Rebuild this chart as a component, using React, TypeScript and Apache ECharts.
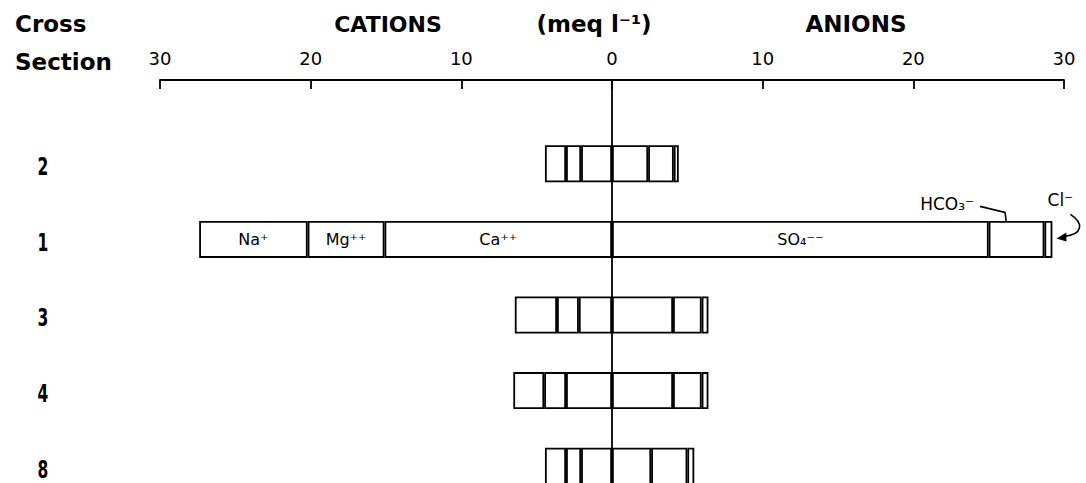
import React, { useEffect, useRef } from 'react';
import * as echarts from 'echarts';

// Cross sections (top to bottom)
const sections = ['2', '1', '3', '4', '8'];
// Cations (meq l-1), drawn to the left of zero
const caValues = [2.05, 15.1, 2.2, 3.05, 2.05];
const mgValues = [1.0, 5.1, 1.45, 1.45, 1.0];
const naValues = [1.4, 7.2, 2.8, 2.05, 1.4];
// Anions (meq l-1), drawn to the right of zero
const so4Values = [2.4, 25.0, 4.05, 4.05, 2.6];
const hco3Values = [1.7, 3.7, 1.9, 1.9, 2.4];
const clValues = [0.33, 0.53, 0.45, 0.45, 0.46];
// Axis range
const axisMin = -30;
const axisMax = 30;
const axisInterval = 10;
// Segment labels shown in section 1
const labelledSection = '1';
const ionLabels = { ca: 'Ca⁺⁺', mg: 'Mg⁺⁺', na: 'Na⁺', so4: 'SO₄⁻⁻' };

const thinFont = "'DejaVu Sans', 'Noto Sans', sans-serif";
const boldFont = "'DejaVu Sans', 'Liberation Sans', sans-serif";

function makeSeries(name: string, values: number[], sign: number, label?: string) {
  return {
    type: 'bar',
    name,
    stack: 'ions',
    xAxisIndex: 0,
    yAxisIndex: 0,
    barWidth: 37,
    itemStyle: { color: '#ffffff', borderColor: '#000000', borderWidth: 1.8 },
    emphasis: { disabled: true },
    data: values.map((v, i) => ({
      value: sign * v,
      label:
        label && sections[i] === labelledSection
          ? {
              show: true,
              position: 'inside',
              formatter: label,
              color: '#000',
              fontSize: 16,
              fontFamily: thinFont,
            }
          : { show: false },
    })),
  };
}

export default function App() {
  const ref = useRef<HTMLDivElement>(null);
  useEffect(() => {
    document.body.style.margin = '0';
    const chart = echarts.init(ref.current!, undefined, { renderer: 'svg' });
    const option: any = {
      animation: false,
      backgroundColor: '#ffffff',
      grid: [
        { left: 160, right: 22, top: 126, height: 378, outerBoundsMode: 'none', containLabel: false },
        { left: 160, right: 22, top: 80, height: 420, outerBoundsMode: 'none', containLabel: false },
      ],
      xAxis: [
        {
          gridIndex: 0,
          type: 'value',
          position: 'top',
          offset: 46,
          min: axisMin,
          max: axisMax,
          interval: axisInterval,
          axisLine: { show: true, lineStyle: { color: '#000', width: 1.8 } },
          axisTick: { show: true, inside: true, length: 9, lineStyle: { color: '#000', width: 1.8 } },
          axisLabel: {
            show: true,
            margin: 13,
            color: '#000',
            fontSize: 18,
            fontFamily: thinFont,
            formatter: (v: number) => String(Math.abs(v)),
          },
          splitLine: { show: false },
        },
        {
          gridIndex: 1,
          type: 'value',
          min: axisMin,
          max: axisMax,
          show: false,
        },
      ],
      yAxis: [
        {
          gridIndex: 0,
          type: 'category',
          data: sections,
          inverse: true,
          axisLine: { show: false },
          axisTick: { show: false },
          splitLine: { show: false },
          axisLabel: { show: false },
        },
        {
          gridIndex: 1,
          type: 'category',
          data: ['zero'],
          axisLine: { show: true, onZero: true, lineStyle: { color: '#000', width: 1.8 } },
          axisTick: { show: false },
          axisLabel: { show: false },
          splitLine: { show: false },
        },
      ],
      series: [
        makeSeries('Ca', caValues, -1, ionLabels.ca),
        makeSeries('Mg', mgValues, -1, ionLabels.mg),
        makeSeries('Na', naValues, -1, ionLabels.na),
        makeSeries('SO4', so4Values, 1, ionLabels.so4),
        makeSeries('HCO3', hco3Values, 1),
        makeSeries('Cl', clValues, 1),
      ],
    };
    chart.setOption(option);

    const idx = sections.indexOf(labelledSection);
    const hco3Anchor = chart.convertToPixel({ gridIndex: 0 } as any, [
      so4Values[idx] + hco3Values[idx] * 0.33,
      labelledSection,
    ]) as number[];
    const clAnchor = chart.convertToPixel({ gridIndex: 0 } as any, [
      so4Values[idx] + hco3Values[idx] + clValues[idx],
      labelledSection,
    ]) as number[];
    const [hx, hy] = hco3Anchor;
    const [cx, cy] = clAnchor;

    const header = (text: string, x: number, y: number, align = 'left', size = 22) => ({
      type: 'text',
      x,
      y,
      style: {
        text,
        fill: '#000',
        fontSize: size,
        fontWeight: 'bold',
        fontFamily: boldFont,
        align,
        verticalAlign: 'middle',
      },
    });

    // Condensed category labels, placed on the category axis positions
    const rowLabels = sections.map((s) => {
      const p = chart.convertToPixel({ gridIndex: 0 } as any, [axisMin, s]) as number[];
      return {
        type: 'text',
        x: 43,
        y: p[1] + 3,
        scaleX: 0.62,
        style: {
          text: s,
          fill: '#000',
          fontSize: 25,
          fontWeight: 'bold',
          fontFamily: boldFont,
          align: 'center',
          verticalAlign: 'middle',
        },
      };
    });

    chart.setOption({
      graphic: [
        header('Cross', 15, 24, 'left', 23),
        header('Section', 15, 62, 'left', 23),
        header('CATIONS', 388, 24, 'center'),
        header('(meq l⁻¹)', 594, 24, 'center', 23),
        header('ANIONS', 856, 24, 'center', 23),
        ...rowLabels,
        {
          type: 'text',
          x: hx - 60,
          y: hy - 35,
          style: { text: 'HCO₃⁻', fill: '#000', fontSize: 17, fontFamily: thinFont, align: 'center', verticalAlign: 'middle' },
        },
        {
          type: 'polyline',
          shape: { points: [[hx - 27, hy - 33], [hx - 2, hy - 27], [hx, hy - 11]] },
          style: { stroke: '#000', lineWidth: 1.6, fill: null },
        },
        {
          type: 'polygon',
          shape: { points: [[hx, hy - 3], [hx - 4, hy - 13], [hx + 4, hy - 13]] },
          style: { fill: '#000' },
        },
        {
          type: 'text',
          x: cx + 8,
          y: cy - 39,
          style: { text: 'Cl⁻', fill: '#000', fontSize: 17, fontFamily: thinFont, align: 'center', verticalAlign: 'middle' },
        },
        {
          type: 'bezierCurve',
          shape: { x1: cx + 18, y1: cy - 25, cpx1: cx + 32, cpy1: cy - 16, cpx2: cx + 30, cpy2: cy - 5, x2: cx + 12, y2: cy - 3 },
          style: { stroke: '#000', lineWidth: 1.6, fill: null },
        },
        {
          type: 'polygon',
          shape: { points: [[cx + 4, cy - 1], [cx + 14, cy - 7], [cx + 14, cy + 2]] },
          style: { fill: '#000' },
        },
      ],
    });

    return () => chart.dispose();
  }, []);
  return (
    <div
      ref={ref}
      style={{ position: 'fixed', left: 0, top: 0, width: 1086, height: 483, background: '#fff' }}
    />
  );
}
